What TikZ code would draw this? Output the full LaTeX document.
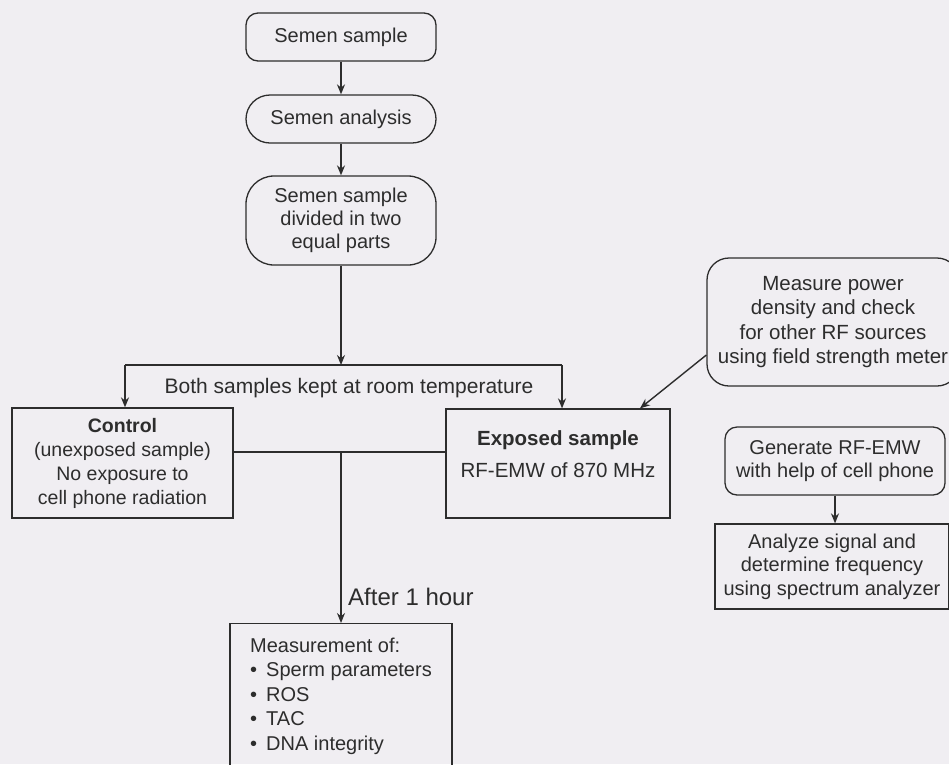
\documentclass[tikz,border=0pt]{standalone}
\usepackage{fontspec}
\setmainfont{Liberation Sans}
\usetikzlibrary{arrows.meta}
\definecolor{bg}{RGB}{240,238,242}
\definecolor{ink}{RGB}{45,45,45}
\begin{document}
\begin{tikzpicture}[x=1pt,y=-1pt,
  every node/.style={font=\fontsize{20}{23.5}\selectfont, text=ink},
  box/.style={draw=ink, line width=1.3pt, align=center, inner sep=0pt},
  rbox/.style={box, rounded corners=12pt},
  conn/.style={draw=ink, line width=1.4pt},
  arr/.style={conn, -{Stealth[length=10pt,width=8pt]}}]
\useasboundingbox (0,0) rectangle (949,764);
\fill[bg] (0,0) rectangle (949,764);
\clip (0,0) rectangle (949,764);

\node[rbox, minimum width=190pt, minimum height=48pt] (s1) at (341,37) {Semen sample};
\node[rbox, rounded corners=24pt, minimum width=190pt, minimum height=48pt] (s2) at (341,119) {Semen analysis};
\node[rbox, rounded corners=28pt, minimum width=190pt, minimum height=89pt, font=\fontsize{20}{23}\selectfont] (s3) at (341,220.5) {Semen sample\\divided in two\\equal parts};

\node[box, minimum width=221pt, minimum height=110pt, font=\fontsize{19.5}{24}\selectfont] (ctrl) at (122.5,463) {\textbf{Control}\\(unexposed sample)\\No exposure to\\cell phone radiation};
\node[box, minimum width=224pt, minimum height=109pt, font=\fontsize{20.5}{24}\selectfont] (exp) at (558,463.5) {\textbf{Exposed sample}\\[8pt]RF-EMW of 870 MHz\rule[-18pt]{0pt}{0pt}};

\node[box, anchor=north, minimum width=222pt, align=left, inner ysep=14pt, font=\fontsize{20}{24.5}\selectfont] (meas) at (341,623) {Measurement of:\\
•\hspace{9pt}Sperm parameters\\
•\hspace{9pt}ROS\\
•\hspace{9pt}TAC\\
•\hspace{9pt}DNA integrity};

\node[rbox, rounded corners=22pt, minimum width=252pt, minimum height=128pt, font=\fontsize{20.5}{24.3}\selectfont] (mp) at (833,322) {Measure power\\density and check\\for other RF sources\\using field strength meter};
\node[rbox, minimum width=220pt, minimum height=68pt] (gen) at (835,461) {Generate RF-EMW\\with help of cell phone};
\node[box, minimum width=234pt, minimum height=85pt] (ana) at (832,566.5) {Analyze signal and\\determine frequency\\using spectrum analyzer};

\node[inner sep=0pt, font=\fontsize{21}{24}\selectfont] (both) at (349,388) {Both samples kept at room temperature};
\node[inner sep=0pt, anchor=west, font=\fontsize{24}{28}\selectfont] (after) at (348,597) {After 1 hour};

\coordinate (j) at (341,365);
\coordinate (jl) at (125,365);
\coordinate (jr) at (562,365);
\coordinate (m) at (341,452);
\coordinate (mpa) at ([yshift=-33pt]mp.west);
\coordinate (expb) at ([xshift=82pt]exp.north);

\draw[arr] (s1) -- (s2);
\draw[arr] (s2) -- (s3);
\draw[arr] (s3) -- (j);
\draw[conn] (jl) -- (jr);
\draw[arr] (jl) -- (jl |- ctrl.north);
\draw[arr] (jr) -- (jr |- exp.north);
\draw[conn] (ctrl.east |- m) -- (exp.west |- m);
\draw[arr] (m) -- (meas.north);
\draw[arr] (mpa) -- (expb);
\draw[arr] (gen.south) -- (gen.south |- ana.north);
\end{tikzpicture}
\end{document}
